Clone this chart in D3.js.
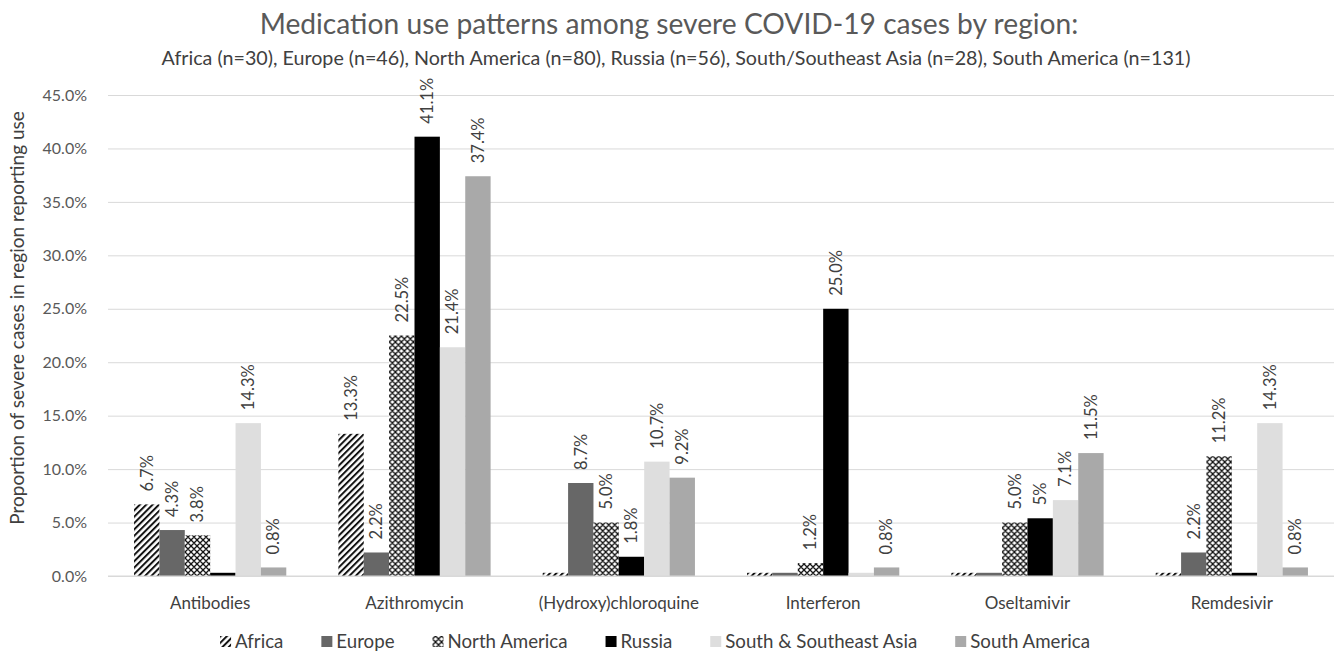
<!DOCTYPE html>
<html>
<head>
<meta charset="utf-8">
<title>Medication use patterns</title>
<script src="https://cdn.jsdelivr.net/npm/d3@7"></script>
<style>
  body { margin: 0; background: #fff; }
  svg text { font-family: Lato, "Open Sans", sans-serif; }
</style>
</head>
<body>
<div id="chart"></div>
<script>
// data (percent of severe cases)
var drugs = ["Antibodies", "Azithromycin", "(Hydroxy)chloroquine", "Interferon", "Oseltamivir", "Remdesivir"];
var regions = ["Africa", "Europe", "North America", "Russia", "South & Southeast Asia", "South America"];

var africa  = [6.7, 13.3, 0, 0, 0, 0];
var europe  = [4.3, 2.2, 8.7, 0, 0, 2.2];
var northAm = [3.8, 22.5, 5.0, 1.2, 5.0, 11.2];
var russia  = [0, 41.1, 1.8, 25.0, 5.4, 0];
var ssAsia  = [14.3, 21.4, 10.7, 0, 7.1, 14.3];
var southAm = [0.8, 37.4, 9.2, 0.8, 11.5, 0.8];

// labels as printed on the chart ("" = no label)
var africaLbl  = ["6.7%", "13.3%", "", "", "", ""];
var europeLbl  = ["4.3%", "2.2%", "8.7%", "", "", "2.2%"];
var northAmLbl = ["3.8%", "22.5%", "5.0%", "1.2%", "5.0%", "11.2%"];
var russiaLbl  = ["", "41.1%", "1.8%", "25.0%", "5%", ""];
var ssAsiaLbl  = ["14.3%", "21.4%", "10.7%", "", "7.1%", "14.3%"];
var southAmLbl = ["0.8%", "37.4%", "9.2%", "0.8%", "11.5%", "0.8%"];

var yTicks = [0, 5, 10, 15, 20, 25, 30, 35, 40, 45];

var title = "Medication use patterns among severe COVID-19 cases by region:";
var subtitle = "Africa (n=30), Europe (n=46), North America (n=80), Russia (n=56), South/Southeast Asia (n=28), South America (n=131)";
var yTitle = "Proportion of severe cases in region reporting use";

var series = [africa, europe, northAm, russia, ssAsia, southAm];
var seriesLbl = [africaLbl, europeLbl, northAmLbl, russiaLbl, ssAsiaLbl, southAmLbl];
var fills = ["url(#hatch)", "#676767", "url(#diamond)", "#000000", "#dedede", "#a9a9a9"];

var width = 1338, height = 652;
var zeroStub = 0.3; // excel shows zero bars as a sliver

var svg = d3.select("#chart").append("svg")
    .attr("width", width)
    .attr("height", height);

var defs = svg.append("defs");
var hatch = defs.append("pattern")
    .attr("id", "hatch")
    .attr("patternUnits", "userSpaceOnUse")
    .attr("width", 4.5).attr("height", 4.5)
    .attr("patternTransform", "rotate(45)");
hatch.append("rect").attr("width", 4.5).attr("height", 4.5).attr("fill", "#fff");
hatch.append("line").attr("x1", 1).attr("y1", 0).attr("x2", 1).attr("y2", 4.5)
    .attr("stroke", "#111").attr("stroke-width", 2);

var diamond = defs.append("pattern")
    .attr("id", "diamond")
    .attr("patternUnits", "userSpaceOnUse")
    .attr("width", 6).attr("height", 6);
diamond.append("rect").attr("width", 6).attr("height", 6).attr("fill", "#fff");
diamond.append("path").attr("d", "M3,0 L6,3 L3,6 L0,3 Z")
    .attr("fill", "none").attr("stroke", "#111").attr("stroke-width", 1.3);

var x = d3.scaleBand()
    .domain(drugs)
    .range([108, 1334])
    .paddingInner(0.255)
    .paddingOuter(0.1275);

var xs = d3.scaleBand()
    .domain(regions)
    .range([0, x.bandwidth()]);

var y = d3.scaleLinear()
    .domain([0, 45])
    .range([576, 95]);

// gridlines + y labels
var yAxis = d3.axisLeft(y)
    .tickValues(yTicks)
    .tickSize(-(1334 - 108))
    .tickPadding(21)
    .tickFormat(function(d) { return d.toFixed(1) + "%"; });

var gy = svg.append("g")
    .attr("transform", "translate(108,0)")
    .call(yAxis);
gy.select(".domain").remove();
gy.selectAll(".tick line").attr("stroke", "#d9d9d9").attr("stroke-width", 1);
gy.selectAll(".tick text")
    .attr("fill", "#595959")
    .style("font-size", "16px");

// bars
var groups = svg.selectAll(".drug")
    .data(drugs)
  .enter().append("g")
    .attr("class", "drug")
    .attr("transform", function(d) { return "translate(" + x(d) + ",0)"; });

groups.each(function(drug, i) {
  var g = d3.select(this);
  regions.forEach(function(r, j) {
    var v = series[j][i];
    var shown = Math.max(v, zeroStub);
    g.append("rect")
        .attr("x", xs(r))
        .attr("y", y(shown))
        .attr("width", xs.bandwidth())
        .attr("height", y(0) - y(shown))
        .attr("fill", fills[j]);
    var lbl = seriesLbl[j][i];
    if (lbl) {
      var lx = xs(r) + xs.bandwidth() / 2;
      var ly = y(v) - 13;
      g.append("text")
          .attr("transform", "translate(" + lx + "," + ly + ") rotate(-90)")
          .attr("dy", "0.35em")
          .attr("text-anchor", "start")
          .attr("fill", "#404040")
          .style("font-size", "16.5px")
          .text(lbl);
    }
  });
});

// x axis line + category labels
svg.append("line")
    .attr("x1", 108).attr("x2", 1334)
    .attr("y1", y(0)).attr("y2", y(0))
    .attr("stroke", "#d9d9d9");

svg.selectAll(".cat")
    .data(drugs)
  .enter().append("text")
    .attr("class", "cat")
    .attr("x", function(d) { return x(d) + x.bandwidth() / 2; })
    .attr("y", 609)
    .attr("text-anchor", "middle")
    .attr("fill", "#404040")
    .style("font-size", "17px")
    .text(function(d) { return d; });

// titles
svg.append("text")
    .attr("x", 669).attr("y", 34)
    .attr("text-anchor", "middle")
    .attr("fill", "#595959")
    .style("font-size", "28.2px")
    .text(title);

svg.append("text")
    .attr("x", 676).attr("y", 65)
    .attr("text-anchor", "middle")
    .attr("fill", "#404040")
    .style("font-size", "19.7px")
    .text(subtitle);

svg.append("text")
    .attr("transform", "translate(24,318) rotate(-90)")
    .attr("text-anchor", "middle")
    .attr("fill", "#404040")
    .style("font-size", "19px")
    .text(yTitle);

// legend
var legend = svg.append("g");
var lx = 0, gap = 38;
regions.forEach(function(r, j) {
  var item = legend.append("g").attr("transform", "translate(" + lx + ",0)");
  item.append("rect")
      .attr("x", 0).attr("y", -12)
      .attr("width", 11).attr("height", 11)
      .attr("fill", fills[j]);
  var t = item.append("text")
      .attr("x", 15).attr("y", 0)
      .attr("fill", "#404040")
      .style("font-size", "18.7px")
      .text(r);
  lx += 15 + t.node().getComputedTextLength() + gap;
});
var lw = lx - gap;
legend.attr("transform", "translate(" + (655 - lw / 2) + ",648)");
</script>
</body>
</html>
